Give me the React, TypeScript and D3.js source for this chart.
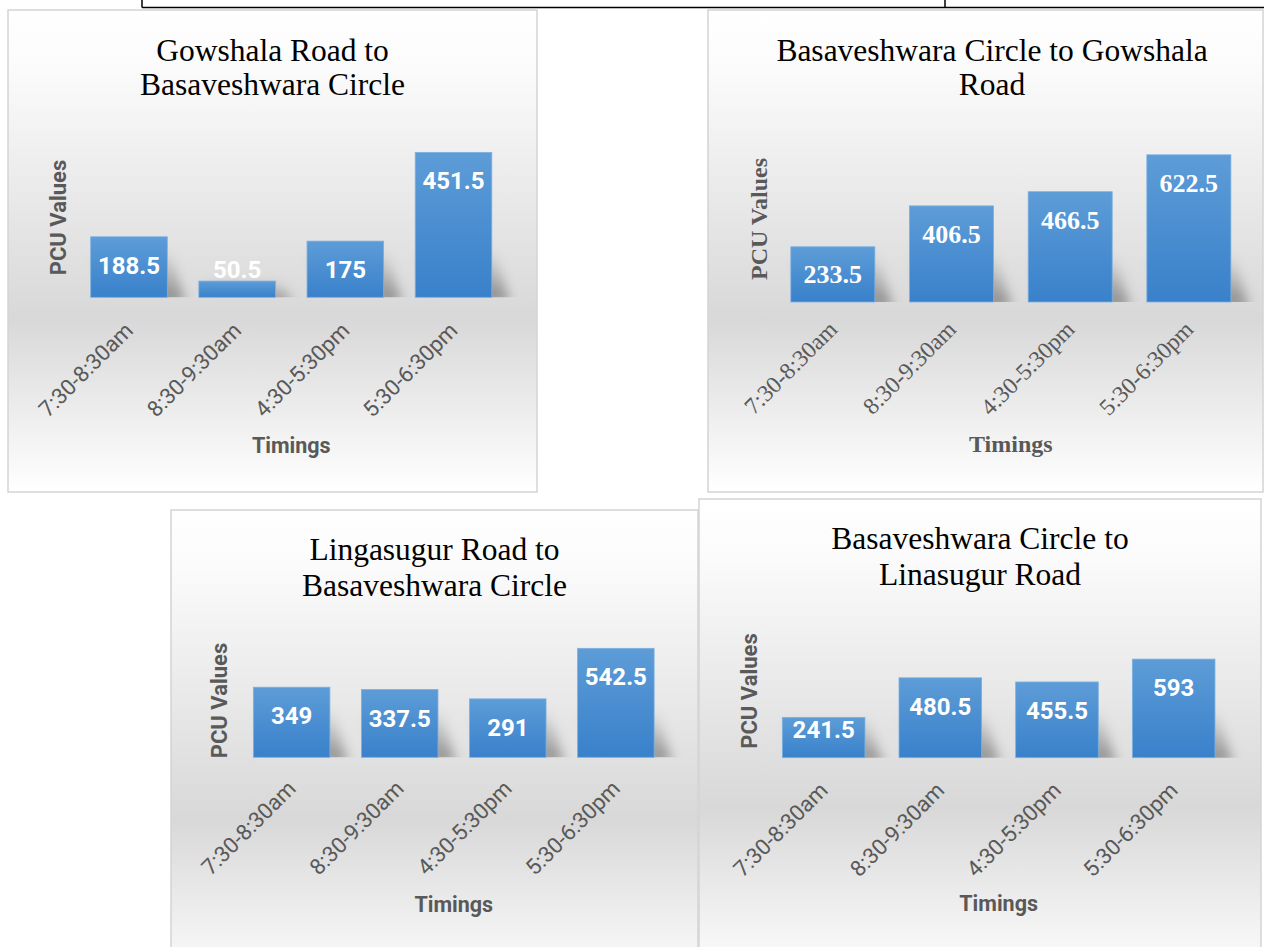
import * as d3 from 'd3'

// categories + values
const timings = ['7:30-8:30am', '8:30-9:30am', '4:30-5:30pm', '5:30-6:30pm']
const gowshalaToBasaveshwara = [188.5, 50.5, 175, 451.5]
const basaveshwaraToGowshala = [233.5, 406.5, 466.5, 622.5]
const lingasugurToBasaveshwara = [349, 337.5, 291, 542.5]
const basaveshwaraToLingasugur = [241.5, 480.5, 455.5, 593]

const titles = [
  ['Gowshala Road to', 'Basaveshwara Circle'],
  ['Basaveshwara Circle to Gowshala', 'Road'],
  ['Lingasugur Road to', 'Basaveshwara Circle'],
  ['Basaveshwara Circle to', 'Linasugur Road'],
]
const yMaxes = [500, 700, 600, 800]

const SANS = 'Roboto, "Noto Sans", sans-serif'
const SERIF = '"Liberation Serif", "DejaVu Serif", serif'
const GREY = '#595959'

interface PanelLayout {
  box: { x: number; y: number; w: number; h: number }
  titleX: number
  titleY: [number, number]
  xRange: [number, number]
  yRange: [number, number]
  pcu: { x: number; y: number }
  timingsY: number
  tickOffset: number
  serif: boolean
}

const layouts: PanelLayout[] = [
  {
    box: { x: 8, y: 10, w: 529, h: 482 },
    titleX: 272.5,
    titleY: [61, 95],
    xRange: [74.9, 507.6],
    yRange: [297.3, 136.8],
    pcu: { x: 65.5, y: 217.5 },
    timingsY: 453,
    tickOffset: 29,
    serif: false,
  },
  {
    box: { x: 708, y: 10, w: 555, h: 482 },
    titleX: 992,
    titleY: [61, 95],
    xRange: [773.5, 1248.2],
    yRange: [302, 136.5],
    pcu: { x: 766.5, y: 219 },
    timingsY: 451.7,
    tickOffset: 23,
    serif: true,
  },
  {
    box: { x: 171, y: 510, w: 527, h: 482 },
    titleX: 434.5,
    titleY: [560, 595.5],
    xRange: [237.6, 669.9],
    yRange: [757.3, 636.8],
    pcu: { x: 227.3, y: 700.5 },
    timingsY: 911.7,
    tickOffset: 27.2,
    serif: false,
  },
  {
    box: { x: 699, y: 499, w: 562, h: 482 },
    titleX: 980,
    titleY: [549.3, 585],
    xRange: [765.3, 1232],
    yRange: [757.7, 624.7],
    pcu: { x: 757, y: 691 },
    timingsY: 910.7,
    tickOffset: 28.4,
    serif: false,
  },
]

const series = [gowshalaToBasaveshwara, basaveshwaraToGowshala, lingasugurToBasaveshwara, basaveshwaraToLingasugur]

function Panel({ idx }: { idx: number }) {
  const L = layouts[idx]
  const values = series[idx]
  const font = L.serif ? SERIF : SANS

  const x = d3.scaleBand<string>().domain(timings).range(L.xRange).paddingInner(0.292).paddingOuter(0.146)
  const y = d3.scaleLinear().domain([0, yMaxes[idx]]).range(L.yRange)
  const base = y(0)
  const bw = x.bandwidth()

  const valueSize = L.serif ? 26 : 24
  const capH = L.serif ? valueSize * 0.676 : valueSize * 0.711
  const tickSize = L.serif ? 23.5 : 22

  return (
    <g>
      <rect
        x={L.box.x}
        y={L.box.y}
        width={L.box.w}
        height={L.box.h}
        fill="url(#bgGrad)"
        stroke="#d4d4d4"
        strokeWidth={1.5}
      />
      {titles[idx].map((t, i) => (
        <text key={i} x={L.titleX} y={L.titleY[i]} textAnchor="middle" fontFamily={SERIF} fontSize={31.5} fill="#000">
          {t}
        </text>
      ))}

      <clipPath id={`clip${idx}`}>
        <rect x={L.box.x} y={L.box.y} width={L.box.w} height={base - L.box.y} />
      </clipPath>

      {/* soft perspective shadows behind the bars */}
      <g clipPath={`url(#clip${idx})`}>
        {values.map((v, i) => {
          const x0 = x(timings[i])!
          const x1 = x0 + bw
          const sh = Math.min(base - y(v), 48)
          const pts = [
            [x0 + 2, base - sh],
            [x1 + 2, base - sh],
            [x1 + 18, base + 6],
            [x0 + 18, base + 6],
          ]
          return (
            <polygon
              key={i}
              points={pts.map((p) => p.join(',')).join(' ')}
              fill="url(#shadowGrad)"
              filter="url(#blur)"
            />
          )
        })}
      </g>

      {values.map((v, i) => (
        <rect
          key={i}
          x={x(timings[i])}
          y={y(v)}
          width={bw}
          height={base - y(v)}
          fill="url(#barGrad)"
          stroke="#7bb0e0"
          strokeWidth={0.8}
        />
      ))}

      {values.map((v, i) => {
        const ty = Math.min(y(v) + 20 + capH, base - 19.5)
        return (
          <text
            key={i}
            x={x(timings[i])! + bw / 2}
            y={ty}
            textAnchor="middle"
            fontFamily={font}
            fontWeight="bold"
            fontSize={valueSize}
            fill="#fff"
          >
            {v}
          </text>
        )
      })}

      {timings.map((t) => (
        <text
          key={t}
          transform={`translate(${x(t)! + bw / 2},${base + L.tickOffset}) rotate(-45)`}
          textAnchor="end"
          dy="0.35em"
          fontFamily={font}
          fontSize={tickSize}
          fill={GREY}
        >
          {t}
        </text>
      ))}

      <text
        x={(L.xRange[0] + L.xRange[1]) / 2}
        y={L.timingsY}
        textAnchor="middle"
        fontFamily={font}
        fontWeight="bold"
        fontSize={L.serif ? 24 : 21.5}
        fill={GREY}
      >
        Timings
      </text>

      <text
        transform={`translate(${L.pcu.x},${L.pcu.y}) rotate(-90)`}
        textAnchor="middle"
        fontFamily={font}
        fontWeight="bold"
        fontSize={L.serif ? 24 : 22}
        fill={GREY}
      >
        PCU Values
      </text>
    </g>
  )
}

export default function App() {
  const W = 1264
  const H = 947
  return (
    <div style={{ position: 'absolute', left: 0, top: 0, width: W, height: H, overflow: 'hidden', background: '#fff' }}>
      <svg width={W} height={H} style={{ display: 'block' }}>
        <defs>
          <linearGradient id="bgGrad" x1="0" y1="0" x2="0" y2="1">
            <stop offset="0" stopColor="#ffffff" />
            <stop offset="0.12" stopColor="#fbfbfb" />
            <stop offset="0.64" stopColor="#d8d8d8" />
            <stop offset="1" stopColor="#ffffff" />
          </linearGradient>
          <linearGradient id="barGrad" x1="0" y1="0" x2="0" y2="1">
            <stop offset="0" stopColor="#5d9cd7" />
            <stop offset="1" stopColor="#3981cb" />
          </linearGradient>
          <linearGradient id="shadowGrad" x1="0" y1="0" x2="0" y2="1">
            <stop offset="0" stopColor="#000" stopOpacity={0} />
            <stop offset="1" stopColor="#000" stopOpacity={0.38} />
          </linearGradient>
          <filter id="blur" x="-50%" y="-50%" width="200%" height="200%">
            <feGaussianBlur stdDeviation="6" />
          </filter>
        </defs>

        {/* edge of the table row above the figure */}
        <g stroke="#000" strokeWidth={1.5}>
          <line x1={142} y1={7.5} x2={W} y2={7.5} />
          <line x1={142} y1={0} x2={142} y2={7.5} />
          <line x1={945} y1={0} x2={945} y2={7.5} />
        </g>

        {layouts.map((_, i) => (
          <Panel key={i} idx={i} />
        ))}
      </svg>
    </div>
  )
}
